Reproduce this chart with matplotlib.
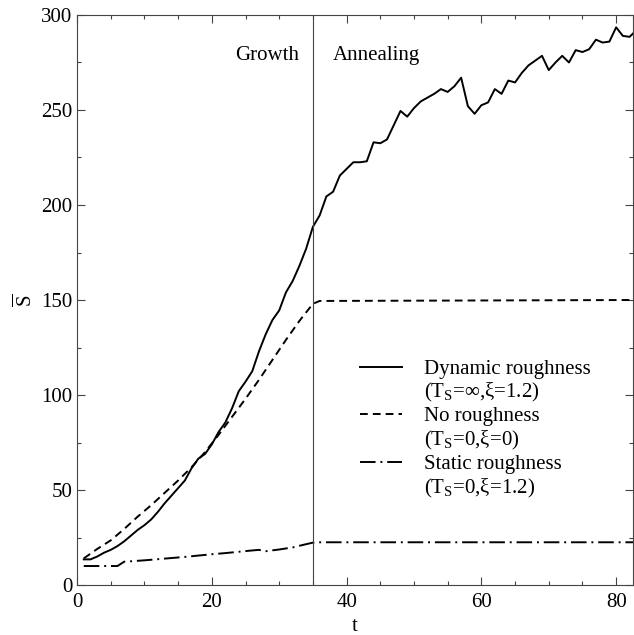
import matplotlib
matplotlib.use("Agg")
import matplotlib.pyplot as plt
from matplotlib.lines import Line2D
from matplotlib.ticker import MultipleLocator

plt.rcParams['font.family'] = ['Liberation Serif', 'DejaVu Serif']
plt.rcParams['mathtext.fontset'] = 'custom'
plt.rcParams['mathtext.rm'] = 'Liberation Serif'
plt.rcParams['mathtext.it'] = 'Liberation Serif:italic'

# ---- data ----
t_dyn = list(range(1, 84))
s_dyn = [13.5, 13.5, 15, 17, 18.5, 20.5, 23, 26, 29, 31.5,
         34.5, 38.5, 43, 47, 51, 55, 61.5, 66.5, 69, 74,
         80.5, 85.5, 93, 102, 107, 112.5, 123, 132, 139.5, 144.5,
         154, 160, 168, 177, 188.5, 194.5, 204.5, 207, 215.5, 219,
         222.5, 222.5, 223, 233, 232.5, 234.5, 242, 249.5, 246.5, 251,
         254.5, 256.5, 258.5, 261, 259.5, 262.5, 267, 252, 248, 252.5,
         254, 261, 258.5, 265.5, 264.5, 269.5, 273.5, 276, 278.5, 271,
         275, 278.5, 275, 281.5, 280.5, 282, 287, 285.5, 286, 293.5,
         289, 288.5, 292]

t_none = [1, 3, 5, 7, 9, 11, 13, 15, 17, 19, 21, 23, 25, 27, 29, 31, 33, 35, 36, 83]
s_none = [14, 19, 23.5, 29.5, 36, 42, 48.5, 55, 62, 70, 79, 88.5, 98, 108, 118.5,
          129, 139, 148, 149.5, 150]

t_stat = [1, 6, 7, 8, 10, 12, 14, 16, 18, 20, 22, 24, 26, 27, 28, 30, 32, 34, 35, 36, 83]
s_stat = [10, 10, 12.3, 12.5, 13, 13.6, 14.2, 14.8, 15.5, 16.2, 16.8, 17.5, 18.2,
          18.5, 17.8, 18.7, 19.8, 21.5, 22.3, 22.5, 22.5]

t_switch = 35
labels = ["Dynamic roughness", "(T$_\\mathrm{S}$=\u221e,\u03be=1.2)",
          "No roughness", "(T$_\\mathrm{S}$=0,\u03be=0)",
          "Static roughness", "(T$_\\mathrm{S}$=0,\u03be=1.2)"]

# ---- figure ----
fig = plt.figure(figsize=(6.34, 6.35), dpi=100)
ax = fig.add_axes([0.1215, 0.0787, 0.8769, 0.8977])

lw = 1.4
l1, = ax.plot(t_dyn, s_dyn, color='black', lw=lw, ls='-')
l2, = ax.plot(t_none, s_none, color='black', lw=lw, ls=(0, (4, 2.6)))
l3, = ax.plot(t_stat, s_stat, color='black', lw=lw, ls=(0, (8, 2.5, 1, 2.5)))
ax.axvline(t_switch, color='#444444', lw=0.8)

ax.set_xlim(0, 82.5)
ax.set_ylim(0, 300)
ax.xaxis.set_major_locator(MultipleLocator(20))
ax.xaxis.set_minor_locator(MultipleLocator(5))
ax.yaxis.set_major_locator(MultipleLocator(50))
ax.yaxis.set_minor_locator(MultipleLocator(25))
ax.tick_params(which='both', direction='in', top=True, right=True,
               colors='#444444', labelcolor='black', labelsize=15, width=0.8)
ax.tick_params(which='major', length=5.8)
ax.tick_params(which='minor', length=3.2)
ax.tick_params(axis='x', which='major', pad=6)
ax.tick_params(axis='y', which='major', pad=3.5)
for sp in ax.spines.values():
    sp.set_color('#444444')
    sp.set_linewidth(0.8)

ax.set_xlabel('t', fontsize=15, labelpad=3)
ax.set_ylabel(r'$\overline{\mathrm{S}}$', fontsize=15, labelpad=3)

ax.text(33, 278.5, 'Growth', fontsize=15, ha='right', va='center')
ax.text(37.9, 278.5, 'Annealing', fontsize=15, ha='left', va='center')

empty = Line2D([], [], ls='none')
ax.legend([l1, empty, l2, empty, l3, empty], labels, loc='upper left',
          bbox_to_anchor=(0.509, 0.396), frameon=False, fontsize=15,
          handlelength=2.0, handletextpad=1.05, labelspacing=0.12,
          borderpad=0, borderaxespad=0)

fig.savefig('out.png', dpi=100)
